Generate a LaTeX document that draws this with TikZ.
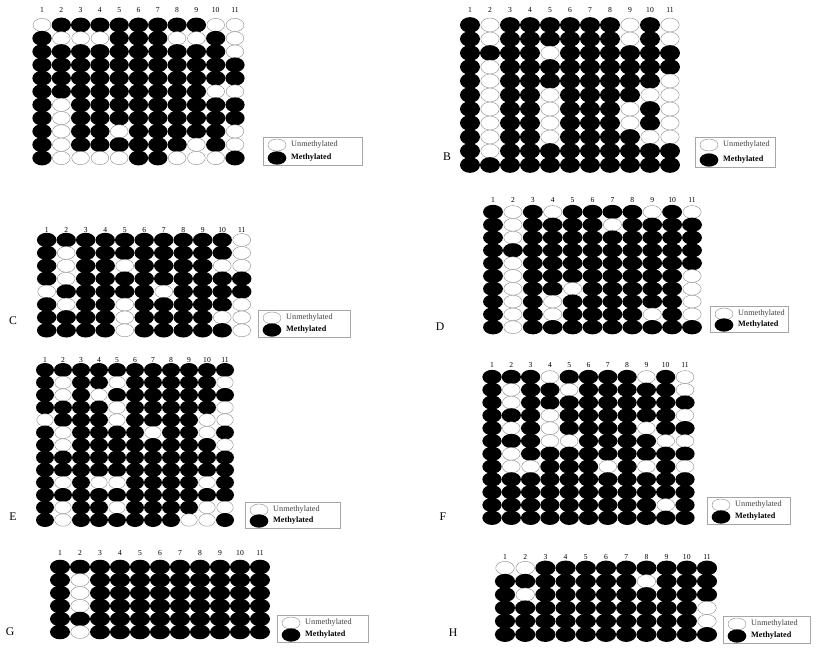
\documentclass[tikz,border=0pt]{standalone}
\usepackage{fontspec}
\setmainfont{Liberation Serif}
\tikzset{
  numlbl/.style={font=\fontsize{6.5}{7}\selectfont, inner sep=0pt},
  panlbl/.style={font=\fontsize{10}{11}\selectfont, inner sep=0pt},
  legtxt/.style={font=\fontsize{7}{8}\selectfont, inner sep=0pt, anchor=west, text=black!75},
  metcirc/.style={fill=black},
  unmcirc/.style={draw=black!45, line width=0.35pt, fill=white},
  legbox/.style={draw=black!35, line width=0.4pt}
}
% #1 x1, #2 dx, #3 y1, #4 dy, #5 numy, #6 name, #7 rows
\newcommand\drawpanel[7]{%
  \foreach \k in {1,...,11}{\node[numlbl] (#6n\k) at ({#1+(\k-1)*#2},#5) {\k};}
  \foreach \row [count=\r] in {#7}{%
    \foreach \v [count=\cc] in \row{%
      \pgfmathsetmacro\xx{#1+(\cc-1)*#2}%
      \pgfmathsetmacro\yy{#3+(\r-1)*#4}%
      \ifnum\v=1
        \fill[metcirc] (\xx,\yy) ellipse [x radius={0.5*#2*0.3mm}, y radius={0.56*#4*0.3mm}];
      \else
        \draw[unmcirc] (\xx,\yy) ellipse [x radius={0.46*#2*0.3mm}, y radius={0.5*#4*0.3mm}];
      \fi
    }%
  }%
}
% legend: #1 x0, #2 y0, #3 x1, #4 y1, #5 name
\newcommand\drawlegend[5]{%
  \draw[legbox] (#1,#2) rectangle (#3,#4);
  \draw[unmcirc] ({#1+14},{#2+8}) ellipse [x radius=2.7mm, y radius=1.8mm];
  \fill[metcirc] ({#1+14},{#4-7}) ellipse [x radius=2.8mm, y radius=2mm];
  \node[legtxt] (#5u) at ({#1+28},{#2+8}) {Unmethylated};
  \node[legtxt, font=\fontsize{7}{8}\selectfont\bfseries, text=black] (#5m) at ({#1+28},{#4-7}) {Methylated};
}
\begin{document}
\begin{tikzpicture}[x=0.3mm,y=-0.3mm]
\useasboundingbox (0,0) rectangle (821,648);
\fill[white] (0,0) rectangle (821,648);

% Panel A
\drawpanel{42}{19.3}{25}{13.3}{10}{A}{
{0,1,1,1,1,1,1,1,1,0,0},
{1,0,0,0,1,1,1,0,0,1,0},
{1,1,1,1,1,1,1,1,1,1,0},
{1,1,1,1,1,1,1,1,1,1,1},
{1,1,1,1,1,1,1,1,1,1,1},
{1,1,1,1,1,1,1,1,1,0,0},
{1,0,1,1,1,1,1,1,1,1,1},
{1,0,1,1,1,1,1,1,1,1,1},
{1,0,1,1,0,1,1,1,1,1,0},
{1,0,1,1,1,1,1,1,0,1,0},
{1,0,0,0,0,1,1,0,0,0,1}}
\node[panlbl] (labA) at (37,157) {A};
\drawlegend{263}{137}{362}{165}{legA}

% Panel B
\drawpanel{470}{20}{25}{14}{10}{B}{
{1,0,1,1,1,1,1,1,0,1,0},
{1,0,1,1,1,1,1,1,0,1,0},
{1,1,1,1,0,1,1,1,1,1,1},
{1,0,1,1,1,1,1,1,1,1,1},
{1,0,1,1,1,1,1,1,1,1,0},
{1,0,1,1,0,1,1,1,1,0,0},
{1,0,1,1,0,1,1,1,0,1,0},
{1,0,1,1,0,1,1,1,0,1,0},
{1,0,1,1,0,1,1,1,1,0,0},
{1,0,1,1,1,1,1,1,1,1,1},
{1,1,1,1,1,1,1,1,1,1,1}}
\node[panlbl] (labB) at (447,157) {B};
\drawlegend{695}{137}{775}{167}{legB}

% Panel C
\drawpanel{46.7}{19.5}{240}{12.9}{230}{C}{
{1,1,1,1,1,1,1,1,1,1,0},
{1,0,1,1,1,1,1,1,1,1,0},
{1,0,1,1,0,1,1,1,1,0,0},
{1,0,1,1,1,1,1,1,1,1,1},
{0,1,1,1,1,1,0,1,1,1,1},
{1,0,1,1,0,1,1,1,1,1,0},
{1,1,1,1,0,1,1,1,1,0,0},
{1,1,1,1,0,1,1,1,1,1,0}}
\node[panlbl] (labC) at (13,321) {C};
\drawlegend{258}{310}{350}{337}{legC}

% Panel D
\drawpanel{493}{19.9}{212}{12.8}{200}{D}{
{1,0,1,0,1,1,1,1,0,1,0},
{1,0,1,1,1,1,0,1,1,1,1},
{1,0,1,1,1,1,1,1,1,1,1},
{1,1,1,1,1,1,1,1,1,1,1},
{1,0,1,1,1,1,1,1,1,1,1},
{1,0,1,1,1,1,1,1,1,1,0},
{1,0,1,1,0,1,1,1,1,1,0},
{1,0,1,0,1,1,1,1,1,1,0},
{1,0,1,0,1,1,1,1,0,1,0},
{1,0,1,1,1,1,1,1,1,1,1}}
\node[panlbl] (labD) at (440,327) {D};
\drawlegend{710}{306}{788}{332}{legD}

% Panel E
\drawpanel{45}{18}{370}{12.5}{360}{E}{
{1,1,1,1,1,1,1,1,1,1,1},
{1,0,1,1,0,1,1,1,1,1,0},
{1,0,1,0,1,1,1,1,1,1,1},
{1,1,1,1,0,1,1,1,1,1,0},
{0,1,1,1,0,1,1,1,1,0,0},
{1,0,1,1,1,1,0,1,1,0,1},
{1,0,1,1,1,1,1,1,1,1,0},
{1,1,1,1,1,1,1,1,1,1,1},
{1,1,1,1,1,1,1,1,1,1,1},
{1,0,1,0,0,1,1,1,1,0,1},
{1,1,1,1,1,1,1,1,1,1,1},
{1,0,1,1,0,1,1,1,1,0,0},
{1,0,1,1,1,1,1,1,0,0,1}}
\node[panlbl] (labE) at (13,517) {E};
\drawlegend{245}{502}{340}{528}{legE}

% Panel F
\drawpanel{492}{19.3}{377}{12.8}{365}{F}{
{1,1,1,0,1,1,1,1,0,1,0},
{1,0,1,1,0,1,1,1,1,1,0},
{1,0,1,1,1,1,1,1,1,1,1},
{1,1,1,0,1,1,1,1,1,1,0},
{1,0,1,0,1,1,1,1,0,1,1},
{1,1,1,0,0,1,1,1,1,0,0},
{1,0,1,1,1,1,1,1,1,1,1},
{1,0,0,1,1,1,0,1,0,1,0},
{1,1,1,1,1,1,1,1,1,1,1},
{1,1,1,1,1,1,1,1,1,1,1},
{1,1,1,1,1,1,1,1,1,0,1},
{1,1,1,1,1,1,1,1,1,1,1}}
\node[panlbl] (labF) at (443,517) {F};
\drawlegend{707}{497}{790}{524}{legF}

% Panel G
\drawpanel{60}{20}{567}{13}{553}{G}{
{1,1,1,1,1,1,1,1,1,1,1},
{1,0,1,1,1,1,1,1,1,1,1},
{1,0,1,1,1,1,1,1,1,1,1},
{1,0,1,1,1,1,1,1,1,1,1},
{1,1,1,1,1,1,1,1,1,1,1},
{1,0,1,1,1,1,1,1,1,1,1}}
\node[panlbl] (labG) at (10,632) {G};
\drawlegend{277}{615}{368}{642}{legG}

% Panel H
\drawpanel{505}{20.2}{568}{13.3}{557}{H}{
{0,0,1,1,1,1,1,1,1,1,1},
{1,1,1,1,1,1,1,0,1,1,1},
{1,0,1,1,1,1,1,1,1,1,1},
{1,1,1,1,1,1,1,1,1,1,0},
{1,1,1,1,1,1,1,1,1,1,0},
{1,1,1,1,1,1,1,1,1,1,1}}
\node[panlbl] (labH) at (453,633) {H};
\drawlegend{723}{616}{810}{643}{legH}
\end{tikzpicture}
\end{document}
